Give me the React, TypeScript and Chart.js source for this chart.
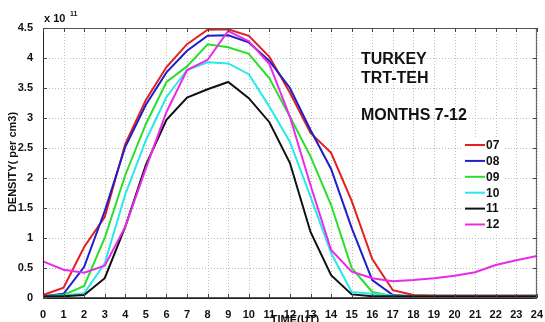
import React, { useEffect, useRef } from "react";
import { Chart, registerables } from "chart.js";

Chart.register(...registerables);

// Hours of the day (UT)
const hours: number[] = Array.from({ length: 25 }, (_, i) => i);
// Density axis ticks (x 10^11 per cm3)
const densityTicks: number[] = [0, 0.5, 1, 1.5, 2, 2.5, 3, 3.5, 4, 4.5];

// Electron density (x 10^11 per cm3) for each month, hourly
const m07 = [0.05, 0.17, 0.85, 1.35, 2.57, 3.3, 3.85, 4.23, 4.47, 4.48, 4.37, 4.02, 3.42, 2.75, 2.42, 1.62, 0.65, 0.13, 0.05, 0.04, 0.04, 0.04, 0.04, 0.04, 0.04];
const m08 = [0.03, 0.07, 0.52, 1.45, 2.52, 3.22, 3.76, 4.12, 4.37, 4.38, 4.26, 3.95, 3.5, 2.8, 2.15, 1.17, 0.3, 0.05, 0.03, 0.03, 0.03, 0.03, 0.03, 0.03, 0.03];
const m09 = [0.03, 0.05, 0.2, 1.0, 2.05, 2.9, 3.6, 3.86, 4.23, 4.18, 4.07, 3.66, 3.02, 2.36, 1.55, 0.5, 0.1, 0.03, 0.03, 0.03, 0.03, 0.03, 0.03, 0.03, 0.03];
const m10 = [0.03, 0.04, 0.08, 0.58, 1.73, 2.63, 3.35, 3.8, 3.93, 3.91, 3.73, 3.19, 2.6, 1.69, 0.75, 0.1, 0.07, 0.04, 0.03, 0.03, 0.03, 0.03, 0.03, 0.03, 0.03];
const m11 = [0.03, 0.03, 0.05, 0.33, 1.19, 2.22, 2.97, 3.34, 3.48, 3.6, 3.33, 2.93, 2.25, 1.1, 0.38, 0.06, 0.03, 0.03, 0.03, 0.03, 0.03, 0.03, 0.03, 0.03, 0.03];
const m12 = [0.61, 0.47, 0.42, 0.54, 1.19, 2.16, 3.1, 3.8, 3.97, 4.45, 4.28, 3.9, 3.02, 1.88, 0.8, 0.44, 0.33, 0.28, 0.3, 0.33, 0.37, 0.43, 0.55, 0.63, 0.7];

const monthLabels = ["07", "08", "09", "10", "11", "12"];
const monthSeries = [m07, m08, m09, m10, m11, m12];
const monthColors = ["#e41f1f", "#1f1fc8", "#2adf2a", "#2ae8ea", "#111111", "#ea2aea"];

const FONT = "'Liberation Sans', Arial, Helvetica, sans-serif";

// dotted grid behind the curves
const gridPlugin = {
  id: "dottedGrid",
  beforeDatasetsDraw(chart: any) {
    const { ctx, chartArea: a, scales } = chart;
    ctx.save();
    ctx.strokeStyle = "#bdbdbd";
    ctx.lineWidth = 1;
    ctx.setLineDash([1, 2]);
    ctx.beginPath();
    for (const h of hours) {
      const px = Math.round(scales.x.getPixelForValue(h)) + 0.5;
      ctx.moveTo(px, a.top);
      ctx.lineTo(px, a.bottom);
    }
    for (const v of densityTicks) {
      const py = Math.round(scales.y.getPixelForValue(v)) + 0.5;
      ctx.moveTo(a.left, py);
      ctx.lineTo(a.right, py);
    }
    ctx.stroke();
    ctx.restore();
  },
};

const framePlugin = {
  id: "frameAndText",
  afterDraw(chart: any) {
    const { ctx, chartArea: a, scales } = chart;
    const xs = scales.x;
    const ys = scales.y;
    ctx.save();
    // axis box
    ctx.strokeStyle = "#555";
    ctx.lineWidth = 1;
    ctx.strokeRect(a.left + 0.5, a.top + 0.5, a.right - a.left - 1, a.bottom - a.top - 1);
    ctx.strokeStyle = "#222";
    ctx.beginPath();
    ctx.moveTo(a.left + 0.5, a.top);
    ctx.lineTo(a.left + 0.5, a.bottom + 0.5);
    ctx.lineTo(a.right, a.bottom + 0.5);
    ctx.stroke();
    // inward ticks
    ctx.strokeStyle = "#444";
    ctx.beginPath();
    for (const h of hours) {
      const px = Math.round(xs.getPixelForValue(h)) + 0.5;
      ctx.moveTo(px, a.bottom);
      ctx.lineTo(px, a.bottom - 4);
      ctx.moveTo(px, a.top);
      ctx.lineTo(px, a.top + 4);
    }
    for (const v of densityTicks) {
      const py = Math.round(ys.getPixelForValue(v)) + 0.5;
      ctx.moveTo(a.left, py);
      ctx.lineTo(a.left + 4, py);
      ctx.moveTo(a.right, py);
      ctx.lineTo(a.right - 4, py);
    }
    ctx.stroke();

    // exponent
    ctx.fillStyle = "#111";
    ctx.textBaseline = "alphabetic";
    ctx.textAlign = "left";
    ctx.font = `bold 11px ${FONT}`;
    ctx.fillText("x 10", a.left + 1, a.top - 6);
    ctx.font = `bold 7px ${FONT}`;
    ctx.fillText("11", a.left + 27, a.top - 12);

    // annotations
    ctx.font = `bold 16px ${FONT}`;
    ctx.fillText("TURKEY", 361, 64);
    ctx.fillText("TRT-TEH", 361, 83);
    ctx.fillText("MONTHS 7-12", 361, 120);

    // legend
    const lx = 465;
    const ly = 145;
    ctx.fillStyle = "#fff";
    ctx.fillRect(lx - 2, ly - 8, 40, 16 * 6 + 2);
    ctx.font = `bold 12px ${FONT}`;
    ctx.textBaseline = "middle";
    monthLabels.forEach((lab, i) => {
      const y = ly + i * 15.9;
      ctx.strokeStyle = monthColors[i];
      ctx.lineWidth = 2;
      ctx.beginPath();
      ctx.moveTo(lx, y);
      ctx.lineTo(lx + 20, y);
      ctx.stroke();
      ctx.fillStyle = "#111";
      ctx.fillText(lab, lx + 21, y + 0.5);
    });

    // axis titles
    ctx.font = `bold 11px ${FONT}`;
    ctx.textAlign = "center";
    ctx.textBaseline = "alphabetic";
    ctx.fillText("TIME(UT)", (a.left + a.right) / 2 + 5, 323);
    ctx.save();
    ctx.font = `bold 11px ${FONT}`;
    ctx.translate(16, 162);
    ctx.rotate(-Math.PI / 2);
    ctx.fillText("DENSITY( per cm3)", 0, 0);
    ctx.restore();
    ctx.restore();
  },
};

export default function App() {
  const canvasRef = useRef<HTMLCanvasElement | null>(null);

  useEffect(() => {
    document.body.style.margin = "0";
    const canvas = canvasRef.current;
    if (!canvas) return;
    const chart = new Chart(canvas, {
      type: "line",
      data: {
        datasets: monthSeries.map((s, i) => ({
          label: monthLabels[i],
          data: s.map((v, k) => ({ x: hours[k], y: v })),
          borderColor: monthColors[i],
          backgroundColor: monthColors[i],
          borderWidth: 2,
          pointRadius: 0,
          tension: 0,
          clip: 2,
          order: monthSeries.length - 1 - i,
        })),
      },
      options: {
        animation: false,
        responsive: false,
        maintainAspectRatio: false,
        layout: { padding: { left: 0, right: 7, top: 28, bottom: 0 } },
        plugins: { legend: { display: false }, tooltip: { enabled: false } },
        scales: {
          x: {
            type: "linear",
            min: 0,
            max: 24,
            afterFit(scale: any) {
              scale.height = 24;
            },
            ticks: {
              stepSize: 1,
              autoSkip: false,
              maxRotation: 0,
              padding: 2,
              color: "#111",
              font: { family: FONT, size: 11, weight: "bold" },
              callback: (v: any) => String(Number(v)),
            },
            grid: { display: false },
            border: { display: false },
          },
          y: {
            min: 0,
            max: 4.5,
            afterFit(scale: any) {
              scale.width = 43;
            },
            ticks: {
              stepSize: 0.5,
              padding: 2,
              color: "#111",
              font: { family: FONT, size: 11, weight: "bold" },
              callback: (v: any) => String(Number(v)),
            },
            grid: { display: false },
            border: { display: false },
          },
        },
      },
      plugins: [gridPlugin, framePlugin],
    });
    return () => chart.destroy();
  }, []);

  return (
    <div style={{ position: "absolute", left: 0, top: 0, width: 545, height: 322, background: "#fff" }}>
      <canvas ref={canvasRef} width={545} height={322} />
    </div>
  );
}
